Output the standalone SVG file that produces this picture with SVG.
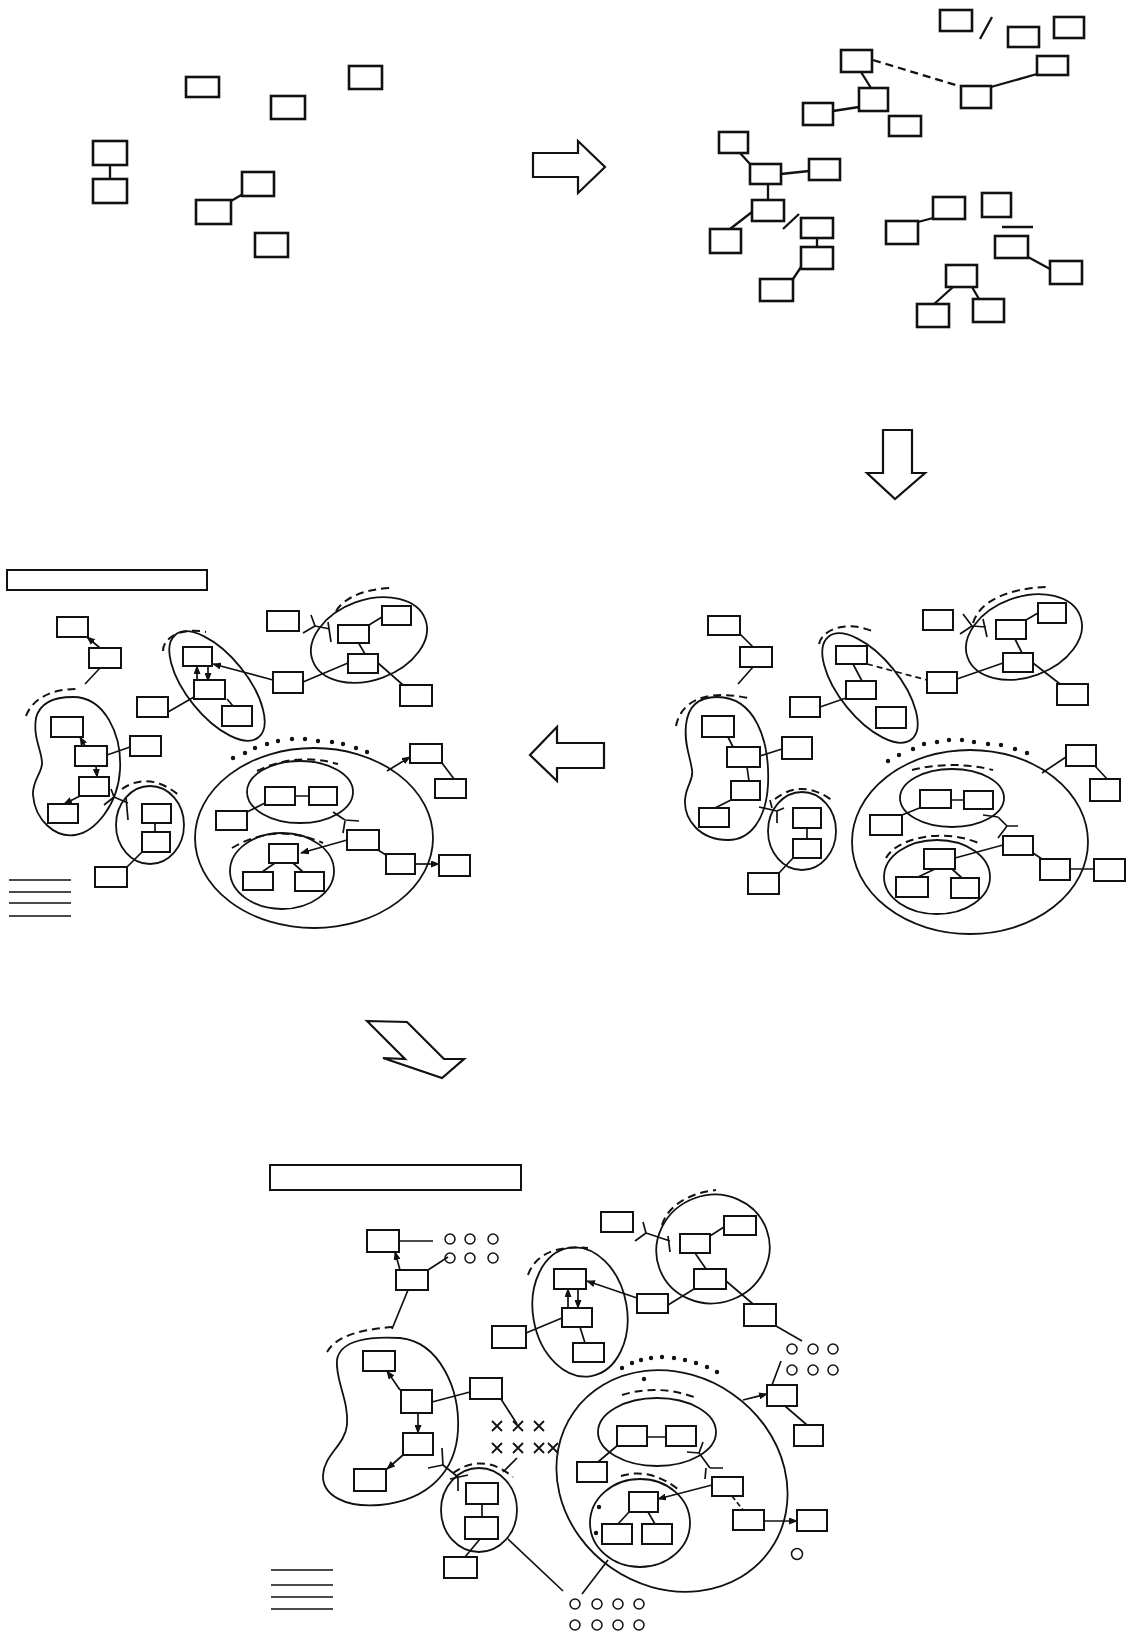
<svg xmlns="http://www.w3.org/2000/svg" width="1128" height="1641" viewBox="0 0 1128 1641">
<style>
.bg{fill:#fff}
.b{fill:#fff;stroke:#111;stroke-width:2}
.tb{fill:#fff;stroke:#111;stroke-width:2.6}
.l{fill:none;stroke:#111;stroke-width:1.7}
.tl{fill:none;stroke:#111;stroke-width:2.3}
.d{fill:none;stroke:#111;stroke-width:2;stroke-dasharray:8 5}
.e{fill:none;stroke:#111;stroke-width:1.8}
.c{fill:none;stroke:#111;stroke-width:1.5}
.dot{fill:#111}
.ar{fill:#fff;stroke:#111;stroke-width:2.2;stroke-linejoin:miter}
.x{stroke:#111;stroke-width:1.8}
.a{fill:none;stroke:#111;stroke-width:1.7;marker-end:url(#ah)}
</style>
<defs>
<marker id="ah" markerUnits="userSpaceOnUse" markerWidth="9" markerHeight="7" refX="8" refY="3.5" orient="auto">
<path d="M0,0 L9,3.5 L0,7 z" fill="#111"/>
</marker>
</defs>
<rect class="bg" x="0" y="0" width="1128" height="1641"/>

<!-- big arrows -->
<g id="arrows">
<polygon class="ar" points="533,153 578,153 578,141 605,167 578,193 578,177 533,177"/>
<polygon class="ar" points="883,430 912,430 912,473 925,473 895,499 867,473 883,473"/>
<polygon class="ar" points="604,743 557,743 557,727 530,755 557,781 557,768 604,768"/>
<polygon class="ar" points="367,1021 407,1022 444,1059 464,1059 442,1078 383,1058 405,1059"/>
</g>

<!-- containers -->
<g id="containers">
<!-- middle left -->
<path class="e" d="M73,697 C105,697 122,735 120,770 C118,805 95,832 75,835 C55,838 35,820 33,795 C32,780 43,772 42,762 C41,748 33,738 36,718 C40,702 55,697 73,697 Z"/>
<ellipse class="e" cx="150" cy="825" rx="34" ry="39"/>
<ellipse class="e" cx="217" cy="686" rx="66" ry="30" transform="rotate(51 217 686)"/>
<ellipse class="e" cx="369" cy="640" rx="60" ry="40" transform="rotate(-20 369 640)"/>
<ellipse class="e" cx="314" cy="838" rx="119" ry="90"/>
<ellipse class="e" cx="300" cy="792" rx="53" ry="31"/>
<ellipse class="e" cx="282" cy="871" rx="52" ry="38"/>
<!-- middle right -->
<path class="e" d="M717,697 C755,697 770,740 768,785 C766,820 750,840 728,840 C700,840 684,820 685,800 C686,785 694,780 692,770 C690,755 684,745 686,725 C688,705 700,697 717,697 Z"/>
<ellipse class="e" cx="802" cy="831" rx="34" ry="39"/>
<ellipse class="e" cx="870" cy="688" rx="66" ry="30" transform="rotate(51 870 688)"/>
<ellipse class="e" cx="1024" cy="637" rx="60" ry="40" transform="rotate(-20 1024 637)"/>
<ellipse class="e" cx="970" cy="842" rx="118" ry="92"/>
<ellipse class="e" cx="952" cy="798" rx="52" ry="29"/>
<ellipse class="e" cx="937" cy="877" rx="53" ry="37"/>
<!-- bottom -->
<path class="e" d="M337,1360 C340,1340 370,1336 400,1338 C440,1342 460,1390 458,1430 C456,1470 430,1500 380,1505 C345,1508 322,1495 323,1475 C324,1455 345,1445 347,1425 C349,1400 335,1380 337,1360 Z"/>
<ellipse class="e" cx="479" cy="1510" rx="38" ry="42"/>
<ellipse class="e" cx="580" cy="1312" rx="47" ry="65" transform="rotate(-10 580 1312)"/>
<ellipse class="e" cx="713" cy="1249" rx="57" ry="54" transform="rotate(-20 713 1249)"/>
<ellipse class="e" cx="672" cy="1481" rx="120" ry="106" transform="rotate(35 672 1481)"/>
<ellipse class="e" cx="657" cy="1432" rx="59" ry="34"/>
<ellipse class="e" cx="640" cy="1523" rx="50" ry="44"/>
</g>

<!-- annotations: dashed arcs, dots, circles, crosses, bars, legends -->
<g id="annotations">
<path class="d" d="M26,716 C32,700 50,688 80,689"/>
<path class="d" d="M122,789 Q150,770 181,797"/>
<path class="d" d="M163,651 C163,638 180,627 206,632"/>
<path class="d" d="M336,611 C345,597 365,589 391,588"/>
<path class="d" d="M257,771 Q295,752 338,764"/>
<path class="d" d="M232,848 Q275,822 323,843"/>
<path class="d" d="M676,726 C680,705 700,688 748,698"/>
<path class="d" d="M775,799 Q802,778 833,801"/>
<path class="d" d="M819,644 C822,630 845,620 872,631"/>
<path class="d" d="M973,623 C980,600 1010,588 1048,587"/>
<path class="d" d="M912,770 Q952,760 993,770"/>
<path class="d" d="M886,858 C895,840 940,826 981,844"/>
<path class="d" d="M327,1352 C335,1338 355,1330 392,1327"/>
<path class="d" d="M453,1473 Q483,1452 513,1477"/>
<path class="d" d="M528,1275 C535,1255 555,1245 588,1248"/>
<path class="d" d="M662,1225 C668,1205 690,1193 716,1190"/>
<path class="d" d="M622,1395 Q657,1384 694,1397"/>
<path class="d" d="M621,1476 Q650,1467 679,1490"/>
<g class="dot">
<circle cx="233" cy="758" r="2.2"/><circle cx="245" cy="753" r="2.2"/><circle cx="255" cy="748" r="2.2"/><circle cx="267" cy="744" r="2.2"/><circle cx="278" cy="741" r="2.2"/><circle cx="292" cy="739" r="2.2"/><circle cx="305" cy="739" r="2.2"/><circle cx="318" cy="741" r="2.2"/><circle cx="332" cy="742" r="2.2"/><circle cx="343" cy="744" r="2.2"/><circle cx="356" cy="748" r="2.2"/><circle cx="367" cy="752" r="2.2"/>
<circle cx="888" cy="761" r="2.2"/><circle cx="899" cy="755" r="2.2"/><circle cx="913" cy="749" r="2.2"/><circle cx="924" cy="744" r="2.2"/><circle cx="937" cy="742" r="2.2"/><circle cx="949" cy="740" r="2.2"/><circle cx="962" cy="740" r="2.2"/><circle cx="974" cy="742" r="2.2"/><circle cx="988" cy="744" r="2.2"/><circle cx="1001" cy="745" r="2.2"/><circle cx="1015" cy="749" r="2.2"/><circle cx="1027" cy="753" r="2.2"/>
<circle cx="622" cy="1368" r="2.2"/><circle cx="632" cy="1363" r="2.2"/><circle cx="641" cy="1360" r="2.2"/><circle cx="651" cy="1358" r="2.2"/><circle cx="662" cy="1357" r="2.2"/><circle cx="674" cy="1358" r="2.2"/><circle cx="685" cy="1360" r="2.2"/><circle cx="696" cy="1363" r="2.2"/><circle cx="707" cy="1367" r="2.2"/><circle cx="717" cy="1372" r="2.2"/>
<circle cx="644" cy="1379" r="2.2"/><circle cx="599" cy="1507" r="2.2"/><circle cx="596" cy="1533" r="2.2"/>
</g>
<g class="c">
<circle cx="450" cy="1239" r="5"/><circle cx="470" cy="1239" r="5"/><circle cx="493" cy="1239" r="5"/>
<circle cx="450" cy="1258" r="5"/><circle cx="470" cy="1258" r="5"/><circle cx="493" cy="1258" r="5"/>
<circle cx="792" cy="1349" r="5"/><circle cx="813" cy="1349" r="5"/><circle cx="833" cy="1349" r="5"/>
<circle cx="792" cy="1370" r="5"/><circle cx="813" cy="1370" r="5"/><circle cx="833" cy="1370" r="5"/>
<circle cx="575" cy="1604" r="5"/><circle cx="597" cy="1604" r="5"/><circle cx="618" cy="1604" r="5"/><circle cx="639" cy="1604" r="5"/>
<circle cx="575" cy="1625" r="5"/><circle cx="597" cy="1625" r="5"/><circle cx="618" cy="1625" r="5"/><circle cx="639" cy="1625" r="5"/>
<circle cx="797" cy="1554" r="5.5"/>
</g>
<g class="x">
<path d="M492,1421 L502,1431 M502,1421 L492,1431"/>
<path d="M513,1421 L523,1431 M523,1421 L513,1431"/>
<path d="M534,1421 L544,1431 M544,1421 L534,1431"/>
<path d="M492,1443 L502,1453 M502,1443 L492,1453"/>
<path d="M513,1443 L523,1453 M523,1443 L513,1453"/>
<path d="M534,1443 L544,1453 M544,1443 L534,1453"/>
<path d="M548,1443 L558,1453 M558,1443 L548,1453"/>
</g>
<rect class="b" x="7" y="570" width="200" height="20"/>
<rect class="b" x="270" y="1165" width="251" height="25"/>
<g class="l">
<path d="M9,880 H71 M9,892 H71 M9,903 H71 M9,916 H71"/>
<path d="M271,1570 H333 M271,1585 H333 M271,1597 H333 M271,1609 H333"/>
</g>
</g>

<!-- connectors -->
<g id="connectors">
<!-- top left -->
<path class="tl" d="M110,165 V179 M231,201 L243,194"/>
<!-- top right -->
<path class="tl" d="M992,17 L980,39 M991,87 L1037,74 M861,72 L871,88 M833,111 L859,107 M740,153 L750,164 M781,174 L809,171 M768,184 V200 M752,212 L730,229 M799,214 L783,229 M817,238 V247 M801,267 L793,279 M918,222 L933,218 M1002,227 H1033 M1028,257 L1050,269 M953,287 L933,305 M972,287 L979,299"/>
<path class="tl" d="M873,60 L959,86" stroke-dasharray="8 5"/>
<!-- middle left -->
<path class="a" d="M100,648 L87,637"/>
<path class="l" d="M100,668 L85,684"/>
<path class="a" d="M85,746 L80,737"/>
<path class="a" d="M96,766 L97,777"/>
<path class="a" d="M80,796 L64,804"/>
<path class="l" d="M107,755 L130,747"/>
<path class="l" d="M104,805 L114,797 M111,789 L114,797 M114,797 L128,803 M126,797 L128,820"/>
<path class="l" d="M127,867 L142,852 M155,823 V832"/>
<path class="a" d="M197,681 L197,666"/>
<path class="a" d="M208,666 L208,681"/>
<path class="l" d="M227,699 L233,706 M168,712 L194,697"/>
<path class="a" d="M273,680 L213,664"/>
<path class="l" d="M303,682 L348,663 M369,625 L382,617 M358,642 L365,654 M378,663 L403,685"/>
<path class="l" d="M303,633 L315,626 M311,615 L315,626 M315,626 L330,629 M328,622 L331,642"/>
<path class="l" d="M295,796 H309 M247,812 L265,803"/>
<path class="l" d="M333,812 L345,820 M345,820 L359,821 M345,821 L343,833"/>
<path class="a" d="M347,840 L301,853"/>
<path class="l" d="M275,863 L262,872 M293,863 L303,872 M378,850 L386,855"/>
<path class="a" d="M415,864 L439,864"/>
<path class="a" d="M387,771 L410,757"/>
<path class="l" d="M442,763 L454,779"/>
<!-- middle right -->
<path class="l" d="M740,634 L753,647 M753,667 L738,684"/>
<path class="l" d="M728,737 L733,747 M747,767 L749,781 M731,800 L715,808 M760,756 L782,749"/>
<path class="l" d="M759,807 L777,811 M777,811 V823 M777,811 L784,808 M770,800 L772,808"/>
<path class="l" d="M807,828 V839 M779,873 L793,858"/>
<path class="l" d="M853,664 L862,681 M820,707 L846,698"/>
<path class="l" d="M867,664 L927,680" stroke-dasharray="6 4"/>
<path class="l" d="M957,679 L1003,663 M1026,620 L1038,613 M1015,639 L1022,653 M1033,663 L1060,684"/>
<path class="l" d="M960,634 L972,626 M963,614 L972,626 M972,626 L986,627 M983,619 L987,637"/>
<path class="l" d="M951,800 H964 M902,815 L922,807"/>
<path class="l" d="M983,815 L998,817 M998,817 L1007,826 M1007,826 L1018,826 M1007,826 L998,838"/>
<path class="l" d="M955,858 L1003,845 M935,869 L918,877 M952,869 L962,878 M1033,853 L1042,859 M1070,869 H1094 M1042,773 L1066,757 M1095,766 L1108,780"/>
<!-- bottom -->
<path class="l" d="M399,1241 H433 M428,1270 L448,1257 M408,1290 L392,1329"/>
<path class="a" d="M400,1270 L395,1252"/>
<path class="a" d="M400,1390 L387,1371"/>
<path class="a" d="M418,1413 L418,1433"/>
<path class="a" d="M403,1455 L387,1469"/>
<path class="l" d="M432,1402 L470,1392 M501,1399 L517,1424 M503,1472 L517,1458"/>
<path class="l" d="M442,1448 L443,1466 M428,1468 L443,1465 M443,1465 L458,1477 M450,1479 L468,1475 M458,1477 V1491"/>
<path class="l" d="M482,1504 V1517 M465,1557 L480,1539 M508,1539 L563,1591"/>
<path class="a" d="M568,1308 L568,1289"/>
<path class="a" d="M578,1289 L578,1308"/>
<path class="l" d="M580,1327 L585,1343 M526,1333 L562,1318"/>
<path class="a" d="M637,1298 L587,1281"/>
<path class="l" d="M710,1236 L724,1227 M695,1253 L706,1269 M726,1281 L753,1304 M668,1305 L694,1289 M776,1326 L802,1341"/>
<path class="l" d="M635,1241 L646,1233 M643,1222 L646,1233 M646,1233 L670,1241 M668,1236 L670,1252"/>
<path class="l" d="M781,1361 L772,1385 M785,1406 L807,1425"/>
<path class="a" d="M743,1400 L767,1394"/>
<path class="l" d="M647,1437 H666 M598,1462 L618,1445"/>
<path class="l" d="M687,1452 L699,1453 M703,1442 L699,1453 M699,1453 L710,1468 M710,1468 H723 M706,1468 L705,1479"/>
<path class="a" d="M712,1485 L658,1499"/>
<path class="l" d="M629,1512 L618,1524 M648,1512 L655,1524 M608,1560 L582,1594"/>
<path class="l" d="M732,1496 L743,1510" stroke-dasharray="5 3"/>
<path class="a" d="M764,1521 L797,1521"/>
</g>

<!-- nodes: top left -->
<g id="tl-a"><rect class="tb" x="186" y="77" width="33" height="20"/></g>
<g id="tl-b"><rect class="tb" x="271" y="96" width="34" height="23"/></g>
<g id="tl-c"><rect class="tb" x="349" y="66" width="33" height="23"/></g>
<g id="tl-d"><rect class="tb" x="93" y="141" width="34" height="24"/></g>
<g id="tl-e"><rect class="tb" x="93" y="179" width="34" height="24"/></g>
<g id="tl-f"><rect class="tb" x="242" y="172" width="32" height="24"/></g>
<g id="tl-g"><rect class="tb" x="196" y="200" width="35" height="24"/></g>
<g id="tl-h"><rect class="tb" x="255" y="233" width="33" height="24"/></g>
<!-- nodes: top right -->
<g id="tr-1"><rect class="tb" x="940" y="10" width="32" height="21"/></g>
<g id="tr-2"><rect class="tb" x="1008" y="27" width="31" height="20"/></g>
<g id="tr-3"><rect class="tb" x="1054" y="17" width="30" height="21"/></g>
<g id="tr-4"><rect class="tb" x="1037" y="56" width="31" height="19"/></g>
<g id="tr-5"><rect class="tb" x="961" y="86" width="30" height="22"/></g>
<g id="tr-6"><rect class="tb" x="841" y="50" width="31" height="22"/></g>
<g id="tr-7"><rect class="tb" x="859" y="88" width="29" height="23"/></g>
<g id="tr-8"><rect class="tb" x="803" y="103" width="30" height="22"/></g>
<g id="tr-9"><rect class="tb" x="889" y="116" width="32" height="20"/></g>
<g id="tr-10"><rect class="tb" x="719" y="132" width="29" height="21"/></g>
<g id="tr-11"><rect class="tb" x="750" y="164" width="31" height="20"/></g>
<g id="tr-12"><rect class="tb" x="809" y="159" width="31" height="21"/></g>
<g id="tr-13"><rect class="tb" x="752" y="200" width="32" height="21"/></g>
<g id="tr-14"><rect class="tb" x="710" y="229" width="31" height="24"/></g>
<g id="tr-15"><rect class="tb" x="801" y="218" width="32" height="20"/></g>
<g id="tr-16"><rect class="tb" x="801" y="247" width="32" height="22"/></g>
<g id="tr-17"><rect class="tb" x="760" y="279" width="33" height="22"/></g>
<g id="tr-18"><rect class="tb" x="933" y="197" width="32" height="22"/></g>
<g id="tr-19"><rect class="tb" x="886" y="221" width="32" height="23"/></g>
<g id="tr-20"><rect class="tb" x="982" y="193" width="29" height="24"/></g>
<g id="tr-21"><rect class="tb" x="995" y="236" width="33" height="22"/></g>
<g id="tr-22"><rect class="tb" x="1050" y="261" width="32" height="23"/></g>
<g id="tr-23"><rect class="tb" x="946" y="265" width="31" height="22"/></g>
<g id="tr-24"><rect class="tb" x="917" y="304" width="32" height="23"/></g>
<g id="tr-25"><rect class="tb" x="973" y="299" width="31" height="23"/></g>
<!-- nodes: middle left -->
<g id="ml-1"><rect class="b" x="57" y="617" width="31" height="20"/></g>
<g id="ml-2"><rect class="b" x="89" y="648" width="32" height="20"/></g>
<g id="ml-3"><rect class="b" x="51" y="717" width="32" height="20"/></g>
<g id="ml-4"><rect class="b" x="75" y="746" width="32" height="20"/></g>
<g id="ml-5"><rect class="b" x="79" y="777" width="30" height="19"/></g>
<g id="ml-6"><rect class="b" x="48" y="804" width="30" height="19"/></g>
<g id="ml-7"><rect class="b" x="130" y="736" width="31" height="20"/></g>
<g id="ml-8"><rect class="b" x="142" y="804" width="29" height="19"/></g>
<g id="ml-9"><rect class="b" x="142" y="832" width="28" height="20"/></g>
<g id="ml-10"><rect class="b" x="95" y="867" width="32" height="20"/></g>
<g id="ml-11"><rect class="b" x="183" y="647" width="29" height="19"/></g>
<g id="ml-12"><rect class="b" x="194" y="680" width="31" height="19"/></g>
<g id="ml-13"><rect class="b" x="222" y="706" width="30" height="20"/></g>
<g id="ml-14"><rect class="b" x="137" y="697" width="31" height="20"/></g>
<g id="ml-15"><rect class="b" x="273" y="672" width="30" height="21"/></g>
<g id="ml-16"><rect class="b" x="267" y="611" width="32" height="20"/></g>
<g id="ml-17"><rect class="b" x="338" y="625" width="31" height="18"/></g>
<g id="ml-18"><rect class="b" x="382" y="606" width="29" height="19"/></g>
<g id="ml-19"><rect class="b" x="348" y="654" width="30" height="19"/></g>
<g id="ml-20"><rect class="b" x="400" y="685" width="32" height="21"/></g>
<g id="ml-21"><rect class="b" x="265" y="787" width="30" height="18"/></g>
<g id="ml-22"><rect class="b" x="309" y="787" width="28" height="18"/></g>
<g id="ml-23"><rect class="b" x="216" y="811" width="31" height="19"/></g>
<g id="ml-24"><rect class="b" x="269" y="844" width="29" height="19"/></g>
<g id="ml-25"><rect class="b" x="243" y="872" width="30" height="18"/></g>
<g id="ml-26"><rect class="b" x="295" y="872" width="29" height="19"/></g>
<g id="ml-27"><rect class="b" x="347" y="830" width="32" height="20"/></g>
<g id="ml-28"><rect class="b" x="386" y="854" width="29" height="20"/></g>
<g id="ml-29"><rect class="b" x="439" y="855" width="31" height="21"/></g>
<g id="ml-30"><rect class="b" x="410" y="744" width="32" height="19"/></g>
<g id="ml-31"><rect class="b" x="435" y="779" width="31" height="19"/></g>
<!-- nodes: middle right -->
<g id="mr-1"><rect class="b" x="708" y="616" width="32" height="19"/></g>
<g id="mr-2"><rect class="b" x="740" y="647" width="32" height="20"/></g>
<g id="mr-3"><rect class="b" x="702" y="716" width="32" height="21"/></g>
<g id="mr-4"><rect class="b" x="727" y="747" width="33" height="20"/></g>
<g id="mr-5"><rect class="b" x="731" y="781" width="29" height="19"/></g>
<g id="mr-6"><rect class="b" x="699" y="808" width="30" height="19"/></g>
<g id="mr-7"><rect class="b" x="782" y="737" width="30" height="22"/></g>
<g id="mr-8"><rect class="b" x="793" y="808" width="28" height="20"/></g>
<g id="mr-9"><rect class="b" x="793" y="839" width="28" height="19"/></g>
<g id="mr-10"><rect class="b" x="748" y="873" width="31" height="21"/></g>
<g id="mr-11"><rect class="b" x="836" y="646" width="31" height="18"/></g>
<g id="mr-12"><rect class="b" x="846" y="681" width="30" height="18"/></g>
<g id="mr-13"><rect class="b" x="876" y="707" width="30" height="21"/></g>
<g id="mr-14"><rect class="b" x="790" y="697" width="30" height="20"/></g>
<g id="mr-15"><rect class="b" x="927" y="672" width="30" height="21"/></g>
<g id="mr-16"><rect class="b" x="923" y="610" width="30" height="20"/></g>
<g id="mr-17"><rect class="b" x="996" y="620" width="30" height="19"/></g>
<g id="mr-18"><rect class="b" x="1038" y="603" width="28" height="20"/></g>
<g id="mr-19"><rect class="b" x="1003" y="653" width="30" height="19"/></g>
<g id="mr-20"><rect class="b" x="1057" y="684" width="31" height="21"/></g>
<g id="mr-21"><rect class="b" x="920" y="790" width="31" height="18"/></g>
<g id="mr-22"><rect class="b" x="964" y="791" width="29" height="18"/></g>
<g id="mr-23"><rect class="b" x="870" y="815" width="32" height="20"/></g>
<g id="mr-24"><rect class="b" x="924" y="849" width="31" height="20"/></g>
<g id="mr-25"><rect class="b" x="896" y="877" width="32" height="20"/></g>
<g id="mr-26"><rect class="b" x="951" y="878" width="28" height="20"/></g>
<g id="mr-27"><rect class="b" x="1003" y="836" width="30" height="19"/></g>
<g id="mr-28"><rect class="b" x="1040" y="859" width="30" height="21"/></g>
<g id="mr-29"><rect class="b" x="1094" y="859" width="31" height="22"/></g>
<g id="mr-30"><rect class="b" x="1066" y="745" width="30" height="21"/></g>
<g id="mr-31"><rect class="b" x="1090" y="779" width="30" height="22"/></g>
<!-- nodes: bottom -->
<g id="bt-1"><rect class="b" x="367" y="1230" width="32" height="22"/></g>
<g id="bt-2"><rect class="b" x="396" y="1270" width="32" height="20"/></g>
<g id="bt-3"><rect class="b" x="363" y="1351" width="32" height="20"/></g>
<g id="bt-4"><rect class="b" x="401" y="1390" width="31" height="23"/></g>
<g id="bt-5"><rect class="b" x="403" y="1433" width="30" height="22"/></g>
<g id="bt-6"><rect class="b" x="354" y="1469" width="32" height="22"/></g>
<g id="bt-7"><rect class="b" x="470" y="1378" width="32" height="21"/></g>
<g id="bt-8"><rect class="b" x="466" y="1483" width="32" height="21"/></g>
<g id="bt-9"><rect class="b" x="465" y="1517" width="33" height="22"/></g>
<g id="bt-10"><rect class="b" x="444" y="1557" width="33" height="21"/></g>
<g id="bt-11"><rect class="b" x="492" y="1326" width="34" height="22"/></g>
<g id="bt-12"><rect class="b" x="554" y="1269" width="32" height="20"/></g>
<g id="bt-13"><rect class="b" x="562" y="1308" width="30" height="19"/></g>
<g id="bt-14"><rect class="b" x="573" y="1343" width="31" height="19"/></g>
<g id="bt-15"><rect class="b" x="637" y="1294" width="31" height="19"/></g>
<g id="bt-16"><rect class="b" x="601" y="1212" width="32" height="20"/></g>
<g id="bt-17"><rect class="b" x="680" y="1234" width="30" height="19"/></g>
<g id="bt-18"><rect class="b" x="724" y="1216" width="32" height="19"/></g>
<g id="bt-19"><rect class="b" x="694" y="1269" width="32" height="20"/></g>
<g id="bt-20"><rect class="b" x="744" y="1304" width="32" height="22"/></g>
<g id="bt-21"><rect class="b" x="767" y="1385" width="30" height="21"/></g>
<g id="bt-22"><rect class="b" x="794" y="1425" width="29" height="21"/></g>
<g id="bt-23"><rect class="b" x="617" y="1426" width="30" height="20"/></g>
<g id="bt-24"><rect class="b" x="666" y="1426" width="30" height="20"/></g>
<g id="bt-25"><rect class="b" x="577" y="1462" width="30" height="20"/></g>
<g id="bt-26"><rect class="b" x="712" y="1477" width="31" height="19"/></g>
<g id="bt-27"><rect class="b" x="629" y="1492" width="29" height="20"/></g>
<g id="bt-28"><rect class="b" x="602" y="1524" width="30" height="20"/></g>
<g id="bt-29"><rect class="b" x="642" y="1524" width="30" height="20"/></g>
<g id="bt-30"><rect class="b" x="733" y="1510" width="31" height="20"/></g>
<g id="bt-31"><rect class="b" x="797" y="1510" width="30" height="21"/></g>
</svg>
